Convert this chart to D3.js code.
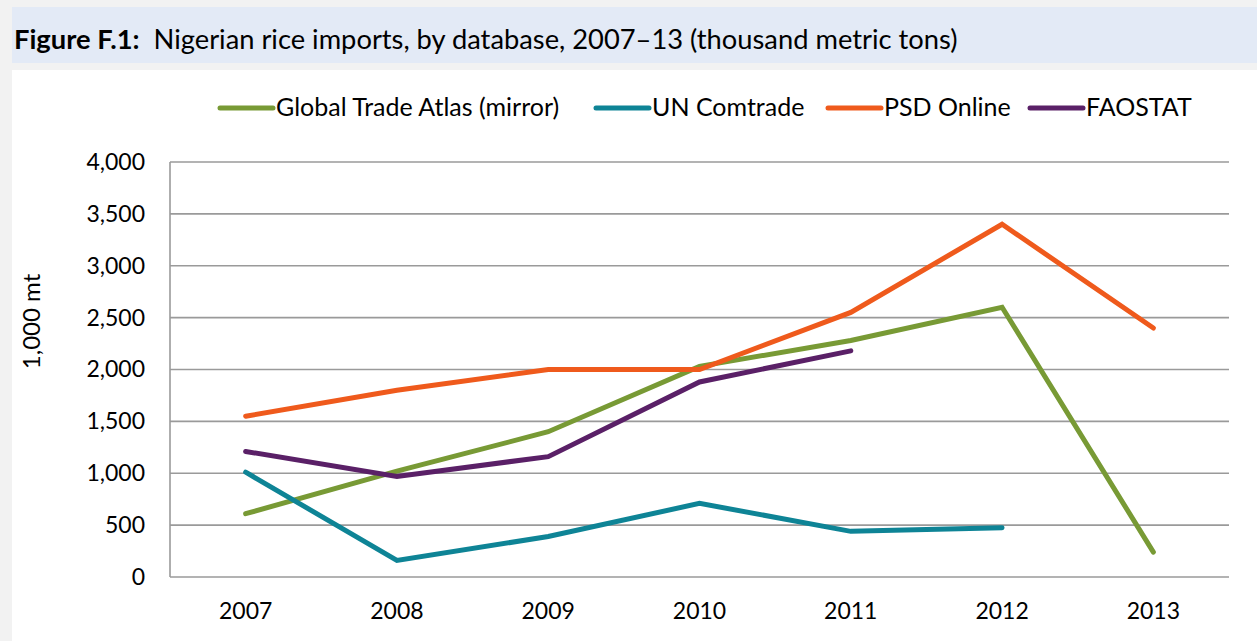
<!DOCTYPE html>
<html>
<head>
<meta charset="utf-8">
<script src="https://cdn.jsdelivr.net/npm/d3@7"></script>
<style>
  html, body { margin: 0; padding: 0; background: #f2f2f2; }
  svg { display: block; }
  text { font-family: Lato, "Open Sans", sans-serif; fill: #000; }
</style>
</head>
<body>
<script>
// Nigerian rice imports by source database, thousand metric tons
const years = ["2007", "2008", "2009", "2010", "2011", "2012", "2013"];
const gtaMirror = [610, 1020, 1400, 2030, 2280, 2600, 240];
const unComtrade = [1010, 160, 390, 710, 440, 475, null];
const psdOnline = [1550, 1800, 2000, 2000, 2550, 3400, 2400];
const faostat = [1210, 970, 1160, 1880, 2180, null, null];
const yTicks = [0, 500, 1000, 1500, 2000, 2500, 3000, 3500, 4000];

const series = [
  { name: "Global Trade Atlas (mirror)", values: gtaMirror, color: "#789a35" },
  { name: "UN Comtrade", values: unComtrade, color: "#0e8496" },
  { name: "PSD Online", values: psdOnline, color: "#ef5a1c" },
  { name: "FAOSTAT", values: faostat, color: "#5a2067" }
];

const W = 1257, H = 641;
const svg = d3.select("body").append("svg").attr("width", W).attr("height", H);

// page frame: header band and white chart panel
svg.append("rect").attr("x", 0).attr("y", 0).attr("width", W).attr("height", H).attr("fill", "#f2f2f2");
svg.append("rect").attr("x", 12).attr("y", 7).attr("width", W - 12).attr("height", 56).attr("fill", "#e3eaf6");
svg.append("rect").attr("x", 12).attr("y", 70).attr("width", W - 12).attr("height", H - 70).attr("fill", "#ffffff");

const title = svg.append("text").attr("x", 14).attr("y", 49).style("font-size", "27.3px");
title.append("tspan").style("font-weight", "bold").text("Figure F.1:");
title.append("tspan").text("\u00a0 Nigerian rice imports, by database, 2007\u201313 (thousand metric tons)");

const plot = { left: 170, right: 1229, top: 162, bottom: 577 };

const x = d3.scaleBand().domain(years).range([plot.left, plot.right]);
const y = d3.scaleLinear().domain([0, 4000]).range([plot.bottom, plot.top]);

// horizontal gridlines
svg.append("g").selectAll("line").data(yTicks).join("line")
  .attr("x1", plot.left).attr("x2", plot.right)
  .attr("y1", d => y(d)).attr("y2", d => y(d))
  .attr("stroke", "#9a9a9a").attr("stroke-width", 1.6);

// left axis line
svg.append("line").attr("x1", plot.left).attr("x2", plot.left)
  .attr("y1", plot.top).attr("y2", plot.bottom)
  .attr("stroke", "#9a9a9a").attr("stroke-width", 1.6);

// y axis labels
const yAxis = d3.axisLeft(y).tickValues(yTicks).tickSize(0).tickPadding(25)
  .tickFormat(d3.format(","));
const gy = svg.append("g").attr("transform", `translate(${plot.left},0)`).call(yAxis);
gy.select(".domain").remove();
gy.selectAll("text").style("font-size", "23px").style("font-family", "Lato, sans-serif").attr("fill", "#000");

// x axis labels
const xAxis = d3.axisBottom(x).tickSize(0).tickPadding(26);
const gx = svg.append("g").attr("transform", `translate(0,${plot.bottom})`).call(xAxis);
gx.select(".domain").remove();
gx.selectAll("text").style("font-size", "23px").style("font-family", "Lato, sans-serif").attr("fill", "#000");

// y axis title
svg.append("text")
  .attr("transform", `translate(40,${(plot.top + plot.bottom) / 2 - 48}) rotate(-90)`)
  .attr("text-anchor", "middle").style("font-size", "24px").text("1,000 mt");

// series lines
const line = d3.line()
  .defined(d => d.v != null)
  .x(d => x(d.year) + x.bandwidth() / 2)
  .y(d => y(d.v));

svg.append("g").selectAll("path").data(series).join("path")
  .attr("d", s => line(years.map((yr, i) => ({ year: yr, v: s.values[i] }))))
  .attr("fill", "none").attr("stroke", s => s.color)
  .attr("stroke-width", 5).attr("stroke-linecap", "round").attr("stroke-linejoin", "miter");

// legend
const legendPos = [218, 594, 826, 1028];
const lg = svg.append("g").selectAll("g").data(series).join("g")
  .attr("transform", (s, i) => `translate(${legendPos[i]},108)`);
lg.append("line").attr("x1", 2).attr("x2", 55).attr("y1", 0).attr("y2", 0)
  .attr("stroke", s => s.color).attr("stroke-width", 5).attr("stroke-linecap", "round");
lg.append("text").attr("x", 58).attr("y", 8).style("font-size", "25px").text(s => s.name);
</script>
</body>
</html>
